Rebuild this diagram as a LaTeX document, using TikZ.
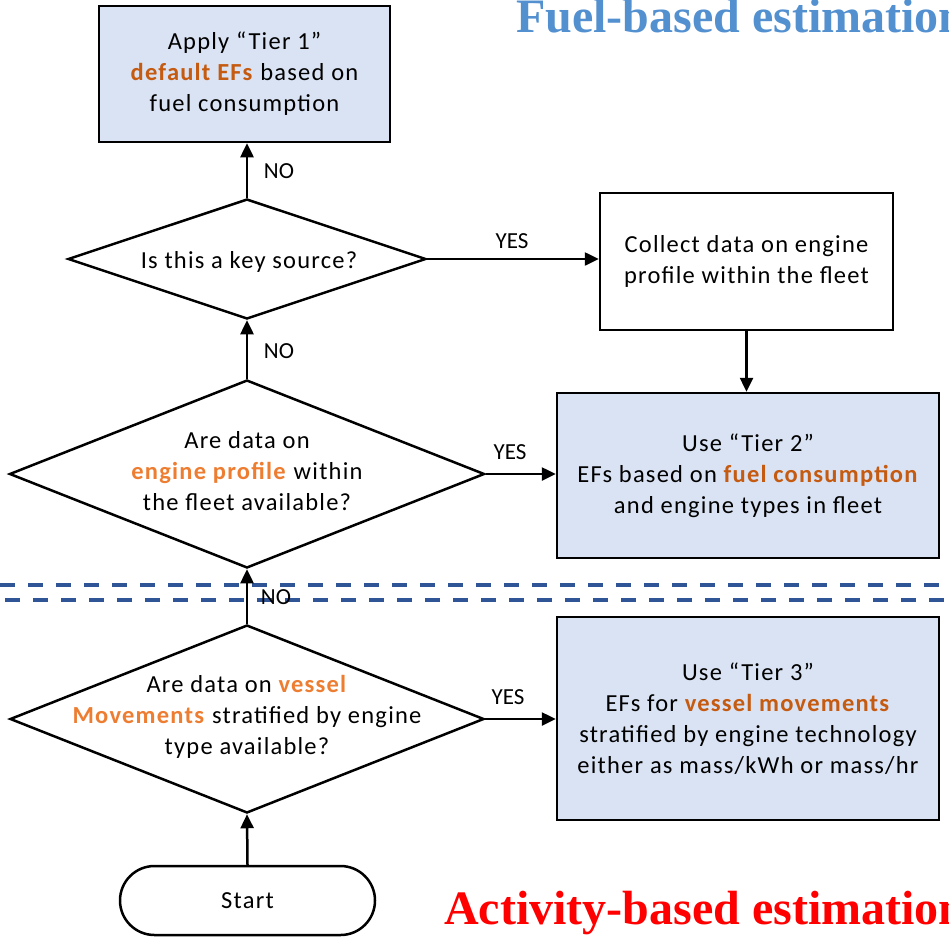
\documentclass[tikz,border=0pt]{standalone}
\usepackage{fontspec}
\setmainfont{Carlito}[LetterSpace=5]
\newfontfamily\lblfont{Carlito}
\newfontfamily\titlefont{Liberation Serif}
\usetikzlibrary{shapes.geometric,arrows.meta}
\definecolor{boxfill}{HTML}{DAE3F3}
\definecolor{orangeA}{HTML}{C55A11}
\definecolor{orangeB}{HTML}{ED7D31}
\definecolor{dashblue}{HTML}{2F5597}
\definecolor{titleblue}{HTML}{5390D0}
\begin{document}
\begin{tikzpicture}[x=1pt,y=-1pt,
  txt/.style={align=center,font=\fontsize{24.5}{31}\selectfont,inner sep=0pt},
  proc/.style={txt,draw=black,line width=2.5pt},
  tierbox/.style={proc,fill=boxfill},
  decision/.style={diamond,draw=black,line width=2.5pt,inner sep=0pt},
  lbl/.style={font=\lblfont\fontsize{23}{25}\selectfont,inner sep=0pt},
  arr/.style={line width=2.5pt,-{Triangle[width=13pt,length=14pt]}},
  sep/.style={draw=dashblue,line width=3.5pt,dash pattern=on 15pt off 13pt},
  ttl/.style={font=\titlefont\bfseries\fontsize{48}{48}\selectfont,inner sep=0pt,anchor=base west}
]
\useasboundingbox (0,0) rectangle (949,947);
\clip (0,0) rectangle (949,947);

% titles
\node[ttl,text=titleblue] (tfuel) at (516,33) {Fuel-based estimation};
\node[ttl,text=red] (tact) at (444,924) {Activity-based estimation};

% separators
\coordinate (s1a) at (0,585); \coordinate (s1b) at (949,585);
\coordinate (s2a) at (5,600); \coordinate (s2b) at (949,600);
\draw[sep] (s1a) -- (s1b);
\draw[sep] (s2a) -- (s2b);

% boxes
\node[tierbox,minimum width=291pt,minimum height=136pt] (t1) at (244.5,74)
  {Apply “Tier 1”\\\textcolor{orangeA}{\textbf{default EFs}} based on\\fuel consumption};
\node[proc,minimum width=293pt,minimum height=137pt] (col) at (746.5,261.5)
  {Collect data on engine\\profile within the fleet};
\node[tierbox,minimum width=382pt,minimum height=165pt] (t2) at (748,475.5)
  {Use “Tier 2”\\EFs based on \textcolor{orangeA}{\textbf{fuel consumption}}\\and engine types in fleet};
\node[tierbox,minimum width=382pt,minimum height=203pt] (t3) at (748,718.5) {};
\node[txt] (t3t) at (748,719)
  {Use “Tier 3”\\EFs for \textcolor{orangeA}{\textbf{vessel movements}}\\stratified by engine technology\\either as mass/kWh or mass/hr};

% decisions
\node[decision,minimum width=358pt,minimum height=120pt] (d1) at (247,259) {};
\node[txt] (q1) at (249,262) {Is this a key source?};
\node[decision,minimum width=475pt,minimum height=188pt] (d2) at (247,474) {};
\node[txt] (q2) at (247,471) {Are data on\\\textcolor{orangeB}{\textbf{engine profile}} within\\the fleet available?};
\node[decision,minimum width=474pt,minimum height=188pt] (d3) at (247,719) {};
\node[txt] (q3) at (247,717) {Are data on \textcolor{orangeB}{\textbf{vessel}}\\\textcolor{orangeB}{\textbf{Movements}} stratified by engine\\type available?};

% start
\node[txt,draw=black,line width=2.5pt,minimum width=255pt,minimum height=69pt,rounded corners=34.5pt] (start) at (247.5,900.5) {Start};

% connectors
\draw[arr] (start.north) -- (d3.south);
\draw[arr] (d3.north) -- (d2.south);
\draw[arr] (d2.north) -- (d1.south);
\draw[arr] (d1.north) -- (t1.south -| d1.north);
\draw[arr] (d1.east) -- (d1.east -| col.west);
\draw[arr] (col.south) -- (col.south |- t2.north);
\draw[arr] (d2.east) -- (d2.east -| t2.west);
\draw[arr] (d3.east) -- (d3.east -| t3.west);

% labels
\node[lbl] (no1) at (279,171) {NO};
\node[lbl] (no2) at (279,351) {NO};
\node[lbl] (no3) at (276,597) {NO};
\node[lbl] (yes1) at (512,241) {YES};
\node[lbl] (yes2) at (510,452) {YES};
\node[lbl] (yes3) at (508,697) {YES};
\end{tikzpicture}
\end{document}
